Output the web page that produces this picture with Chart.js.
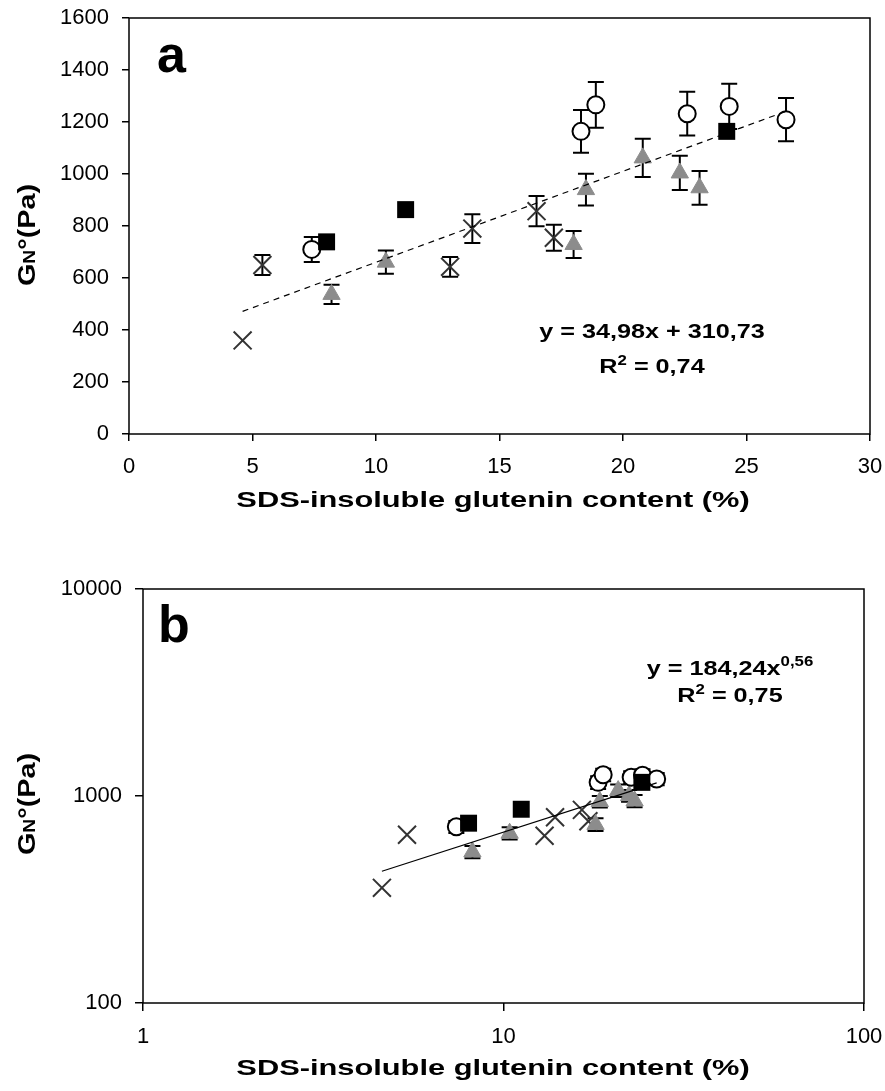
<!DOCTYPE html>
<html>
<head>
<meta charset="utf-8">
<script src="https://cdn.jsdelivr.net/npm/chart.js@4.4.1/dist/chart.umd.min.js"></script>
<style>
html, body { margin: 0; padding: 0; background: #fff; }
#wrap { position: relative; width: 885px; height: 1091px; }
.panel { position: absolute; left: 0; width: 885px; }
#pa { top: 0; height: 540px; }
#pb { top: 540px; height: 551px; }
</style>
</head>
<body>
<div id="wrap">
  <div class="panel" id="pa"><canvas id="chartA" width="885" height="540"></canvas></div>
  <div class="panel" id="pb"><canvas id="chartB" width="885" height="551"></canvas></div>
</div>
<script>
// plateau modulus GN° (Pa) against SDS-insoluble glutenin content (%), four sample groups
var crossX   = [4.6, 5.4, 13.0, 13.9, 16.5, 17.2];
var crossY   = [360, 650, 643, 790, 857, 755];
var crossErr = [0, 38, 38, 55, 58, 50];

var circleX   = [7.4, 18.3, 18.9, 22.6, 24.3, 26.6];
var circleY   = [710, 1164, 1266, 1232, 1260, 1209];
var circleErr = [48, 82, 88, 84, 87, 83];

var squareX = [8.0, 11.2, 24.2];
var squareY = [739, 863, 1164];

var triX   = [8.2, 10.4, 18.0, 18.5, 20.8, 22.3, 23.1];
var triY   = [537, 661, 729, 940, 1062, 1004, 947];
var triErr = [37, 45, 52, 61, 74, 66, 65];

// fitted trends printed on the panels
var linSlope = 34.98, linIntercept = 310.73;
var powCoef = 184.24, powExp = 0.56;
var fitRange = [4.6, 26.6];

var ticksAx = [0, 5, 10, 15, 20, 25, 30];
var ticksAy = [0, 200, 400, 600, 800, 1000, 1200, 1400, 1600];
var ticksBx = [1, 10, 100];
var ticksBy = [100, 1000, 10000];

var FONT = '"Liberation Sans", Arial, Helvetica, sans-serif';

function pts(xs, ys) {
    return xs.map(function (x, i) { return { x: x, y: ys[i] }; });
}

// vertical error bars with caps, under the markers
var errorBars = {
    id: 'errorBars',
    beforeDatasetsDraw: function (chart, args, opts) {
        var ctx = chart.ctx, sx = chart.scales.x, sy = chart.scales.y;
        var skip = opts.skip || [];
        ctx.save();
        ctx.strokeStyle = '#000';
        ctx.lineWidth = 2;
        chart.data.datasets.forEach(function (ds) {
            if (!ds.errors || skip.indexOf(ds.label) >= 0) return;
            ds.data.forEach(function (p, i) {
                var e = ds.errors[i];
                if (!e) return;
                var x = sx.getPixelForValue(p.x);
                var y1 = sy.getPixelForValue(p.y + e);
                var y2 = sy.getPixelForValue(p.y - e);
                ctx.beginPath();
                ctx.moveTo(x, y1); ctx.lineTo(x, y2);
                ctx.moveTo(x - 8, y1); ctx.lineTo(x + 8, y1);
                ctx.moveTo(x - 8, y2); ctx.lineTo(x + 8, y2);
                ctx.stroke();
            });
        });
        ctx.restore();
    }
};

// frame round the plot area
var plotBox = {
    id: 'plotBox',
    afterDraw: function (chart) {
        var a = chart.chartArea, ctx = chart.ctx;
        ctx.save();
        ctx.strokeStyle = '#000';
        ctx.lineWidth = 1.5;
        ctx.strokeRect(a.left, a.top, a.right - a.left, a.bottom - a.top);
        ctx.restore();
    }
};

// bold runs of text, widened along the writing direction
function drawRuns(ctx, runs, x, y, angle, stretch) {
    ctx.save();
    ctx.translate(x, y);
    ctx.rotate(angle);
    ctx.scale(stretch, 1);
    ctx.fillStyle = '#000';
    ctx.textBaseline = 'alphabetic';
    ctx.textAlign = 'left';
    var w = 0;
    runs.forEach(function (r) {
        ctx.font = 'bold ' + r.size + 'px ' + FONT;
        w += ctx.measureText(r.t).width;
    });
    var cx = -w / 2;
    runs.forEach(function (r) {
        ctx.font = 'bold ' + r.size + 'px ' + FONT;
        ctx.fillText(r.t, cx, r.dy || 0);
        cx += ctx.measureText(r.t).width;
    });
    ctx.restore();
}

var panelText = {
    id: 'panelText',
    afterDraw: function (chart, args, opts) {
        var ctx = chart.ctx;
        ctx.save();
        ctx.fillStyle = '#000';
        ctx.font = 'bold ' + opts.letterSize + 'px ' + FONT;
        ctx.fillText(opts.letter, opts.letterX, opts.letterY);
        ctx.restore();
        drawRuns(ctx, [{ t: 'SDS-insoluble glutenin content (%)', size: 22 }], 493, opts.xTitleY, 0, 1.4);
        drawRuns(ctx, [{ t: 'G', size: 24 }, { t: 'N', size: 16 }, { t: '°(Pa)', size: 24 }],
            35, opts.yTitleY, -Math.PI / 2, 1.2);
        drawRuns(ctx, opts.eq1, opts.eqX, opts.eq1Y, 0, 1.2);
        drawRuns(ctx, opts.eq2, opts.eqX, opts.eq2Y, 0, 1.2);
    }
};

function series(fitPts, fitDash) {
    return [{
        type: 'line',
        label: 'fit',
        data: fitPts,
        showLine: true,
        borderColor: '#000',
        borderWidth: 1.2,
        borderDash: fitDash,
        pointRadius: 0,
        fill: false
    }, {
        label: 'squares',
        data: pts(squareX, squareY),
        pointStyle: 'rect',
        pointRadius: 12,
        backgroundColor: '#000',
        borderColor: '#000',
        borderWidth: 0
    }, {
        label: 'circles',
        data: pts(circleX, circleY),
        errors: circleErr,
        pointStyle: 'circle',
        pointRadius: 8.5,
        backgroundColor: '#fff',
        borderColor: '#000',
        borderWidth: 2
    }, {
        label: 'triangles',
        data: pts(triX, triY),
        errors: triErr,
        pointStyle: 'triangle',
        pointRadius: 10,
        backgroundColor: '#8c8c8c',
        borderColor: '#8c8c8c',
        borderWidth: 1
    }, {
        label: 'crosses',
        data: pts(crossX, crossY),
        errors: crossErr,
        pointStyle: 'crossRot',
        pointRadius: 12.7,
        borderColor: '#333',
        borderWidth: 2
    }];
}

function axis(type, min, max, ticks, tickLen, pad, size) {
    return {
        type: type,
        min: min,
        max: max,
        afterBuildTicks: function (s) {
            s.ticks = ticks.map(function (v) { return { value: v }; });
        },
        afterFit: function (s) {
            if (s.isHorizontal()) s.height = size; else s.width = size;
            // no extra room for labels hanging past the plot ends
            s.paddingTop = s.paddingBottom = s.paddingLeft = s.paddingRight = 0;
        },
        ticks: {
            color: '#000',
            padding: pad,
            font: { family: FONT, size: 22 },
            callback: function (v) { return String(v); }
        },
        grid: {
            drawOnChartArea: false,
            drawTicks: true,
            tickLength: tickLen,
            color: '#000',
            lineWidth: 1.5
        },
        border: { display: false }
    };
}

var fitA = [fitRange[0], fitRange[1]].map(function (x) {
    return { x: x, y: linIntercept + linSlope * x };
});
var fitB = [fitRange[0], fitRange[1]].map(function (x) {
    return { x: x, y: powCoef * Math.pow(x, powExp) };
});

new Chart(document.getElementById('chartA').getContext('2d'), {
    type: 'scatter',
    data: { datasets: series(fitA, [6, 5]) },
    options: {
        responsive: false,
        animation: false,
        events: [],
        layout: { autoPadding: false, padding: { left: 0, right: 15, top: 18, bottom: 0 } },
        scales: {
            x: axis('linear', 0, 30, ticksAx, 7, 13, 106),
            y: axis('linear', 0, 1600, ticksAy, 7, 13, 129)
        },
        plugins: {
            legend: { display: false },
            tooltip: { enabled: false },
            errorBars: { skip: [] },
            panelText: {
                letter: 'a', letterSize: 52, letterX: 157, letterY: 72,
                xTitleY: 507, yTitleY: 235,
                eqX: 652, eq1Y: 338, eq2Y: 373,
                eq1: [{ t: 'y = 34,98x + 310,73', size: 21 }],
                eq2: [{ t: 'R', size: 21 }, { t: '2', size: 14, dy: -8 }, { t: ' = 0,74', size: 21 }]
            }
        }
    },
    plugins: [errorBars, plotBox, panelText]
});

new Chart(document.getElementById('chartB').getContext('2d'), {
    type: 'scatter',
    data: { datasets: series(fitB, []) },
    options: {
        responsive: false,
        animation: false,
        events: [],
        layout: { autoPadding: false, padding: { left: 0, right: 21, top: 49, bottom: 0 } },
        scales: {
            x: axis('logarithmic', 1, 100, ticksBx, 8, 13, 88),
            y: axis('logarithmic', 100, 10000, ticksBy, 8, 13, 143)
        },
        plugins: {
            legend: { display: false },
            tooltip: { enabled: false },
            errorBars: { skip: ['crosses'] },
            panelText: {
                letter: 'b', letterSize: 52, letterX: 158, letterY: 102,
                xTitleY: 535, yTitleY: 264,
                eqX: 730, eq1Y: 135, eq2Y: 162,
                eq1: [{ t: 'y = 184,24x', size: 21 }, { t: '0,56', size: 14, dy: -9 }],
                eq2: [{ t: 'R', size: 21 }, { t: '2', size: 14, dy: -8 }, { t: ' = 0,75', size: 21 }]
            }
        }
    },
    plugins: [errorBars, plotBox, panelText]
});
</script>
</body>
</html>
